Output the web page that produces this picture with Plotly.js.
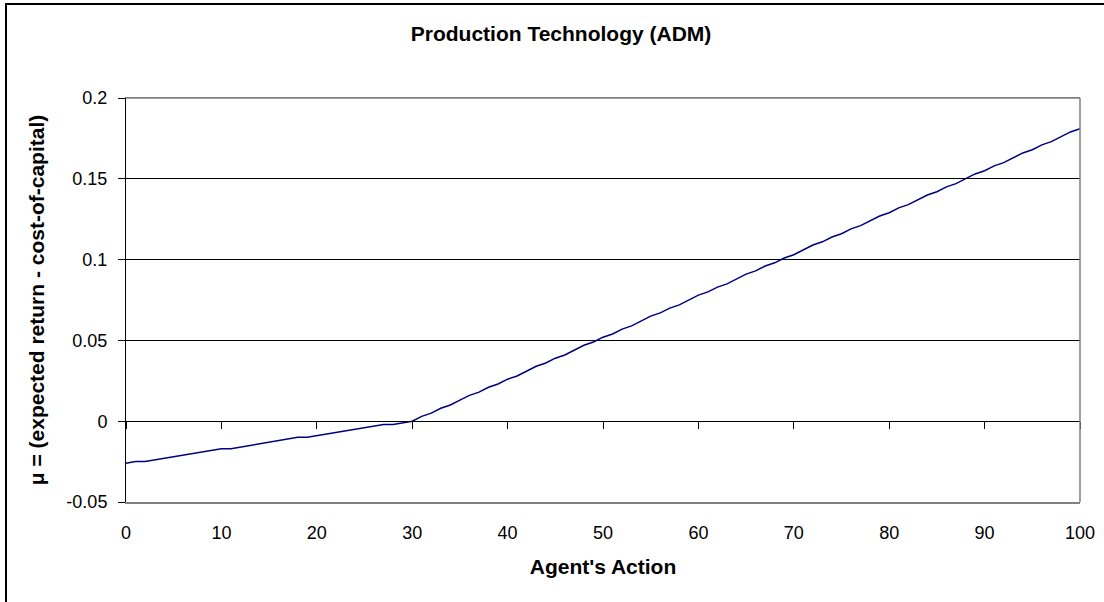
<!DOCTYPE html>
<html>
<head>
<meta charset="utf-8">
<script src="https://cdn.plot.ly/plotly-3.0.1.min.js"></script>
<style>
  html, body { margin: 0; padding: 0; background: #fff; overflow: hidden; }
  #wrap { position: relative; width: 1104px; height: 602px; }
  #chart { position: absolute; left: 0; top: 0; width: 1104px; height: 602px; }
  #frame { position: absolute; left: 5px; top: 3px; width: 1120px; height: 620px;
           border: 2px solid #000; box-sizing: border-box; pointer-events: none; }
</style>
</head>
<body>
<div id="wrap">
  <div id="chart"></div>
  <div id="frame"></div>
</div>
<script>
const chartTitle = "Production Technology (ADM)";
const xTitle = "Agent's Action";
const yTitle = "\u03bc = (expected return - cost-of-capital)";

const agentAction = [
  0, 1, 2, 3, 4, 5, 6, 7, 8, 9,
  10, 11, 12, 13, 14, 15, 16, 17, 18, 19,
  20, 21, 22, 23, 24, 25, 26, 27, 28, 29,
  30, 31, 32, 33, 34, 35, 36, 37, 38, 39,
  40, 41, 42, 43, 44, 45, 46, 47, 48, 49,
  50, 51, 52, 53, 54, 55, 56, 57, 58, 59,
  60, 61, 62, 63, 64, 65, 66, 67, 68, 69,
  70, 71, 72, 73, 74, 75, 76, 77, 78, 79,
  80, 81, 82, 83, 84, 85, 86, 87, 88, 89,
  90, 91, 92, 93, 94, 95, 96, 97, 98, 99,
  100
];
const muValues = [
  -0.026, -0.025, -0.025, -0.024, -0.023, -0.022, -0.021, -0.020, -0.019, -0.018,
  -0.017, -0.017, -0.016, -0.015, -0.014, -0.013, -0.012, -0.011, -0.010, -0.010,
  -0.009, -0.008, -0.007, -0.006, -0.005, -0.004, -0.003, -0.002, -0.002, -0.001,
  0.000, 0.003, 0.005, 0.008, 0.010, 0.013, 0.016, 0.018, 0.021, 0.023,
  0.026, 0.028, 0.031, 0.034, 0.036, 0.039, 0.041, 0.044, 0.047, 0.049,
  0.052, 0.054, 0.057, 0.059, 0.062, 0.065, 0.067, 0.070, 0.072, 0.075,
  0.078, 0.080, 0.083, 0.085, 0.088, 0.091, 0.093, 0.096, 0.098, 0.101,
  0.103, 0.106, 0.109, 0.111, 0.114, 0.116, 0.119, 0.121, 0.124, 0.127,
  0.129, 0.132, 0.134, 0.137, 0.140, 0.142, 0.145, 0.147, 0.150, 0.153,
  0.155, 0.158, 0.160, 0.163, 0.166, 0.168, 0.171, 0.173, 0.176, 0.179,
  0.181
];

const xTickVals = [0, 10, 20, 30, 40, 50, 60, 70, 80, 90, 100];
const xTickText = ["0", "10", "20", "30", "40", "50", "60", "70", "80", "90", "100"];
const yTickVals = [-0.05, 0, 0.05, 0.1, 0.15, 0.2];
const yTickText = ["-0.05", "0", "0.05", "0.1", "0.15", "0.2"];

const FONT = "'Liberation Sans', Arial, sans-serif";

const traces = [{
  x: agentAction,
  y: muValues,
  type: "scatter",
  mode: "lines",
  line: { color: "#000080", width: 1.5 },
  hoverinfo: "x+y",
  showlegend: false
}, {
  x: [agentAction[0]], y: [muValues[0]], xaxis: "x2", type: "scatter", mode: "markers",
  marker: { opacity: 0 }, hoverinfo: "skip", showlegend: false
}];

const layout = {
  width: 1104,
  height: 602,
  margin: { l: 126, r: 24, t: 98, b: 100, pad: 0 },
  paper_bgcolor: "#ffffff",
  plot_bgcolor: "#ffffff",
  font: { family: FONT, size: 18, color: "#000" },
  title: {
    text: "<b>" + chartTitle + "</b>",
    font: { family: FONT, size: 21, color: "#000" },
    x: 0.456, xanchor: "center", xref: "paper",
    y: 1 - 34 / 602, yanchor: "middle", yref: "container"
  },
  xaxis: {
    range: [0, 100],
    tickvals: xTickVals,
    ticktext: xTickText,
    ticks: "",
    ticklabelstandoff: 14,
    showgrid: false,
    zeroline: false,
    showline: true,
    linecolor: "#808080",
    linewidth: 1.5,
    mirror: true,
    tickfont: { family: FONT, size: 18, color: "#000" },
    title: { text: "<b>" + xTitle + "</b>", font: { family: FONT, size: 21, color: "#000" }, standoff: 17 }
  },
  xaxis2: {
    range: [0, 100],
    overlaying: "x",
    anchor: "free",
    position: 0.2,
    tickvals: xTickVals,
    ticks: "outside",
    ticklen: 7,
    tickwidth: 1,
    tickcolor: "#000",
    showticklabels: false,
    showgrid: false,
    zeroline: false,
    showline: true,
    linecolor: "#000",
    linewidth: 1
  },
  yaxis: {
    range: [-0.05, 0.2],
    tickvals: yTickVals,
    ticktext: yTickText,
    ticks: "outside",
    ticklen: 7,
    tickwidth: 1,
    tickcolor: "#000",
    ticklabelstandoff: 7,
    showgrid: true,
    gridcolor: "#000",
    gridwidth: 1,
    zeroline: false,
    showline: true,
    linecolor: "#000",
    linewidth: 1,
    tickfont: { family: FONT, size: 18, color: "#000" },
    title: { text: "<b>" + yTitle + "</b>", font: { family: FONT, size: 21, color: "#000" }, standoff: 16 }
  },
  shapes: [
    { type: "line", xref: "paper", yref: "paper", x0: 0, x1: 1, y0: 1, y1: 1,
      line: { color: "#808080", width: 1.5 } },
    { type: "line", xref: "paper", yref: "paper", x0: 1, x1: 1, y0: 0, y1: 1,
      line: { color: "#808080", width: 1.5 } }
  ]
};

Plotly.newPlot("chart", traces, layout, { displayModeBar: false, staticPlot: true });
</script>
</body>
</html>
